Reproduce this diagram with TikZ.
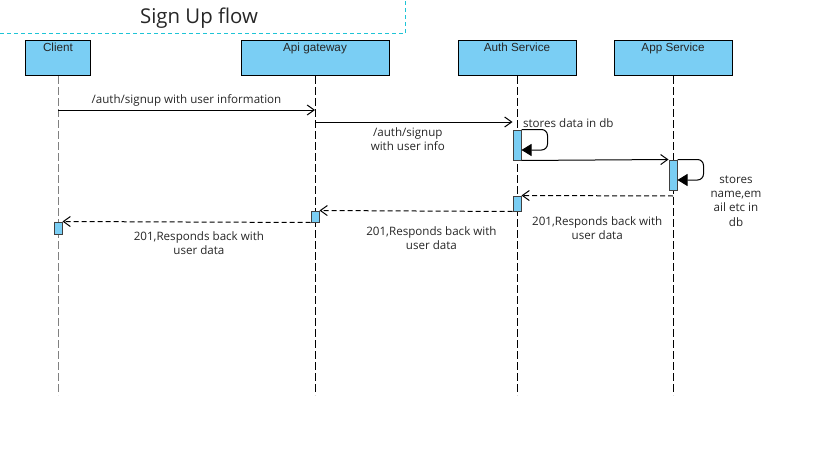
\documentclass[tikz,border=0pt]{standalone}
\usepackage{fontspec}
\setmainfont{Open Sans}
\newfontfamily\boxfont{Liberation Sans}
\usetikzlibrary{arrows.meta}
\definecolor{lifeblue}{RGB}{122,206,244}
\definecolor{framecyan}{RGB}{30,196,214}

\begin{document}
\begin{tikzpicture}[
   x=1pt, y=-1pt, line width=1pt,
   every node/.style={font=\fontsize{11.6}{14.2}\selectfont, text=black!85},
   actor/.style={draw, fill=lifeblue, minimum height=35pt, inner sep=0pt,
      label={[anchor=north, inner sep=2.5pt, font=\boxfont\fontsize{11.7}{13}\selectfont]north:#1}},
   lifeline/.style={dash pattern=on 8pt off 3pt},
   bar/.style={draw=black!75, fill=lifeblue, minimum width=8pt, inner sep=0pt},
   call/.style={-{Straight Barb[length=7pt,width=10pt]}},
   reply/.style={call, dash pattern=on 5pt off 3pt},
   selfcall/.style={-{Triangle[length=10pt,width=12pt]}, rounded corners=6pt}]

\useasboundingbox (0,0) rectangle (825,452);

\node[font=\fontsize{20.4}{24}\selectfont] (title) at (199,18) {Sign Up flow};
\draw[framecyan, dash pattern=on 4pt off 3pt] (0,34) -- (405,34) -- (405,0);

\node[actor=Client, minimum width=65pt] (client) at (58,58) {};
\node[actor=Api gateway, minimum width=148pt] (gateway) at (315,58) {};
\node[actor=Auth Service, minimum width=118pt] (auth) at (517,58) {};
\node[actor=App Service, minimum width=118pt] (app) at (673,58) {};

\foreach \n/\c in {client/gray, gateway/black, auth/black, app/black}
   \draw[lifeline, \c] (\n.south) -- (\n.south |- 0,395);

\node[bar, minimum height=30pt] (auth1) at (517,145) {};
\node[bar, minimum height=30pt] (app1) at (673,175) {};
\node[bar, minimum height=15pt] (auth2) at (517,203.5) {};
\node[bar, minimum height=11pt] (gateway1) at (315,216.5) {};
\node[bar, minimum height=12pt] (client1) at (58,228) {};

\draw[call] (client |- 0,110) -- node[above] {/auth/signup with user information} (gateway |- 0,110);
\draw[call] (gateway |- 0,122) -- node[below=2pt, pos=.47, align=center] {/auth/signup\\with user info} (auth1.west |- 0,122);
\draw[selfcall] (auth1.north east) node[above right, inner sep=1pt] {stores data in db}
   -- ++(26,0) |- ([yshift=-5pt]auth1.east);
\draw[call] (auth1.south east) -- (app1.north west);
\draw[selfcall] (app1.north east) -- ++(26,0) |- ([yshift=-5pt]app1.east);
\node[align=center] (appnote) at (736,201) {stores\\name,em\\ail etc in\\db};

\draw[reply] (app1 |- 0,196) -- node[below=17pt, align=center] {201,Responds back with\\user data} (auth2.north east);
\draw[reply] (auth2.south west) -- node[below=12pt, pos=.42, align=center] {201,Responds back with\\user data} (gateway1.north east);
\draw[reply] (gateway1.south west) -- node[below=6pt, pos=.45, align=center] {201,Responds back with\\user data} (client1.north east);

\end{tikzpicture}
\end{document}
